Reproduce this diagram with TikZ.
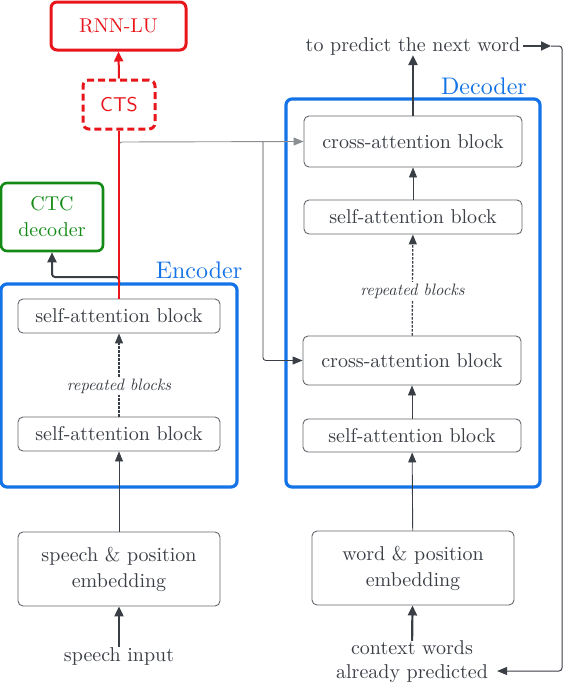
\documentclass[tikz,border=0pt]{standalone}
\usepackage{fontspec}
\setmainfont{lmroman10-regular.otf}[ItalicFont=lmroman10-italic.otf, BoldFont=lmroman10-bold.otf]
\setsansfont{lmsans10-regular.otf}
\usetikzlibrary{arrows.meta}
\definecolor{ink}{HTML}{3A3E45}
\definecolor{boxc}{HTML}{63676D}
\definecolor{bluec}{HTML}{1473E6}
\definecolor{redc}{HTML}{E8151B}
\definecolor{greenc}{HTML}{138A15}
\definecolor{lgray}{HTML}{8A8D92}
\begin{document}
\begin{tikzpicture}[x=1pt,y=-1pt,
  txt/.style={text=ink, font=\fontsize{20}{26}\selectfont, align=center, inner sep=0pt},
  blk/.style={txt, draw=boxc, line width=0.9pt, rounded corners=5pt, fill=white},
  frame/.style={draw=bluec, line width=3.2pt, rounded corners=6pt, inner sep=0pt},
  lbl/.style={text=bluec, font=\fontsize{24}{28}\selectfont, inner sep=0pt},
  small/.style={text=ink, font=\fontsize{16.5}{19}\selectfont\itshape, fill=white, inner sep=1.5pt},
  thinarrow/.style={draw=ink, line width=0.9pt, -{Triangle[length=10pt,width=8pt]}},
  thickarrow/.style={draw=ink, line width=2.2pt, -{Triangle[length=10pt,width=9pt]}},
  dasharrow/.style={draw=ink, line width=1.3pt, dash pattern=on 2.5pt off 1.5pt, -{Triangle[length=10pt,width=8pt]}}]
\useasboundingbox (0,0) rectangle (566,686);

% frames
\node[frame, minimum width=236pt, minimum height=203pt] (encf) at (119,385.5) {};
\node[frame, minimum width=254pt, minimum height=388pt] (decf) at (413,293) {};
\node[lbl] (enclbl) at (199,270) {Encoder};
\node[lbl] (declbl) at (484,86) {Decoder};

% top boxes
\node[txt, text=redc, draw=redc, line width=3pt, rounded corners=6pt, minimum width=135pt, minimum height=48pt] (rnn) at (118.5,26) {RNN-LU};
\node[txt, text=redc, draw=redc, line width=3pt, dash pattern=on 7pt off 4pt, rounded corners=6pt, minimum width=72pt, minimum height=49pt, font=\fontsize{20}{26}\selectfont\sffamily] (cts) at (119,104.5) {CTS};
\node[txt, text=greenc, draw=greenc, line width=2.6pt, rounded corners=6pt, minimum width=102pt, minimum height=68pt] (ctc) at (52,217) {CTC\\decoder};

% encoder blocks
\node[blk, minimum width=202pt, minimum height=34pt] (esa2) at (119,316) {self-attention block};
\node[blk, minimum width=202pt, minimum height=34pt] (esa1) at (119,434) {self-attention block};
\node[blk, minimum width=202pt, minimum height=74pt] (semb) at (119,569) {speech \& position\\embedding};
\node[txt] (sin) at (119,656) {speech input};

% decoder blocks
\node[blk, minimum width=218pt, minimum height=51pt] (dca2) at (413,141.5) {cross-attention block};
\node[blk, minimum width=218pt, minimum height=34pt] (dsa2) at (413,217) {self-attention block};
\node[blk, minimum width=218pt, minimum height=49pt] (dca1) at (412,360.5) {cross-attention block};
\node[blk, minimum width=218pt, minimum height=33pt] (dsa1) at (412,435.5) {self-attention block};
\node[blk, minimum width=202pt, minimum height=74pt] (wemb) at (413,568) {word \& position\\embedding};
\node[txt] (ctx1) at (412,648) {context words};
\node[txt] (ctx2) at (412,674) {already predicted};
\node[txt] (pred) at (413,46) {to predict the next word};

% coordinates
\coordinate (brA) at (119,142);
\coordinate (brB) at (263,142);
\coordinate (brC) at (263,360.5);
\coordinate (ctcA) at (119,286);
\coordinate (ctcB) at (119,277);
\coordinate (ctcC) at (52,277);
\coordinate (fbA) at (551,46);
\coordinate (fbB) at (562,46);
\coordinate (fbC) at (562,671);

% encoder connections
\draw[thickarrow] (sin) -- (semb);
\draw[thinarrow] (semb) -- (esa1);
\draw[dasharrow] (esa1) -- node[small, pos=0.36] {repeated blocks} (esa2);
\draw[draw=lgray, line width=0.9pt, rounded corners=3pt, -{Triangle[length=10pt,width=8pt]}] (119,152) -- (brA) -- (dca2.west);
\draw[draw=ink, line width=0.9pt, rounded corners=3pt, -{Triangle[length=10pt,width=8pt]}] (brB) -- (brC) -- (dca1.west);
\draw[thickarrow, line width=2pt, rounded corners=3pt] (ctcA) -- (ctcB) -- (ctcC) -- (ctc.south);
\draw[draw=redc, line width=1.8pt] (esa2.north) -- (cts.south);
\draw[draw=redc, line width=2pt, -{Triangle[length=10pt,width=9pt]}] (cts.north) -- (rnn.south);

% decoder connections
\draw[thickarrow] (ctx1) -- (wemb);
\draw[thinarrow] (wemb) -- (dsa1);
\draw[thinarrow] (dsa1) -- (dca1);
\draw[dasharrow] (dca1) -- node[small, pos=0.44] {repeated blocks} (dsa2);
\draw[thinarrow] (dsa2) -- (dca2);
\draw[thickarrow] (dca2) -- (pred);

% feedback
\draw[thickarrow, line width=2pt] (pred.east) ++(3pt,0) -- (fbA);
\draw[draw=ink, line width=1pt, rounded corners=3pt, -{Triangle[length=10pt,width=8pt]}] (fbA) -- (fbB) -- (fbC) -- ([xshift=9pt]ctx2.east |- fbC);
\end{tikzpicture}
\end{document}
